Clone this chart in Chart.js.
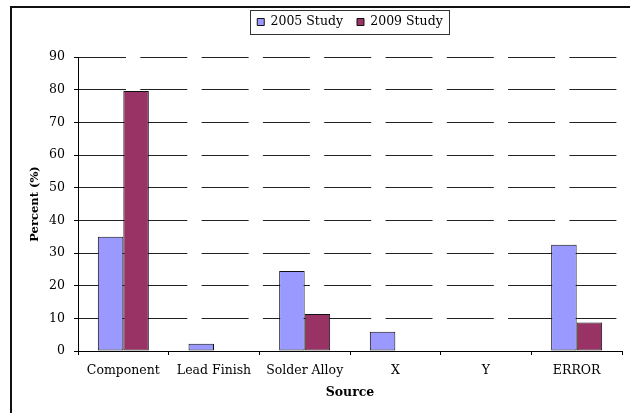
<!DOCTYPE html>
<html>
<head>
<meta charset="utf-8">
<script src="https://cdn.jsdelivr.net/npm/chart.js@4.4.1/dist/chart.umd.min.js"></script>
<style>
  html, body { margin: 0; padding: 0; background: #fff; overflow: hidden; }
  #wrap { width: 630px; height: 413px; position: relative; }
</style>
</head>
<body>
<div id="wrap"><canvas id="c" width="630" height="413"></canvas></div>
<script>
// Share of failures by source, two survey years
const sources = ['Component', 'Lead Finish', 'Solder Alloy', 'X', 'Y', 'ERROR'];
const study2005 = [35, 2.2, 24.5, 5.9, 0, 32.5];
const study2009 = [79.6, 0, 11.3, 0, 0, 8.7];
const seriesNames = ['2005 Study', '2009 Study'];
const yMin = 0, yMax = 90, yStep = 10;

const serif = "'DejaVu Serif', 'Liberation Serif', serif";

// Outer frame, and a bordered legend centred over the plot area
const framePlugin = {
  id: 'frameAndLegendBox',
  beforeDraw(chart) {
    const ctx = chart.ctx;
    ctx.save();
    ctx.strokeStyle = '#111';
    ctx.lineWidth = 2;
    ctx.strokeRect(11, 7, 720, 520);
    ctx.restore();

    const lg = chart.legend;
    if (lg && lg.lineWidths) {
      const area = chart.chartArea;
      const h = lg.height;
      lg.left = area.left;
      lg.right = area.right;
      lg.top = 1.75;
      lg.bottom = lg.top + h;
      const pad = lg.options.labels.padding;
      const content = lg.lineWidths[0] - pad;
      const cx = (area.left + area.right) / 2;
      const bx = Math.round(cx - content / 2 - 7) + 0.5;
      const bw = Math.round(content + 14);
      ctx.save();
      ctx.strokeStyle = '#333';
      ctx.lineWidth = 1;
      ctx.strokeRect(bx, 10.5, bw, 24);
      ctx.restore();
    }
  }
};

new Chart(document.getElementById('c'), {
  type: 'bar',
  data: {
    labels: sources,
    datasets: [
      {
        label: seriesNames[0],
        data: study2005,
        backgroundColor: '#9999FF',
        borderColor: '#111',
        borderWidth: 1,
        borderSkipped: false
      },
      {
        label: seriesNames[1],
        data: study2009,
        backgroundColor: '#993366',
        borderColor: '#111',
        borderWidth: 1,
        borderSkipped: false
      }
    ]
  },
  options: {
    responsive: false,
    animation: false,
    devicePixelRatio: 1,
    layout: { padding: { left: 0, right: 8, top: 20.5, bottom: 0 } },
    datasets: { bar: { categoryPercentage: 0.5625, barPercentage: 1 } },
    plugins: {
      tooltip: { enabled: false },
      legend: {
        position: 'top',
        labels: {
          boxWidth: 7,
          boxHeight: 7,
          padding: 14,
          color: '#000',
          font: { family: serif, size: 12.5 }
        }
      }
    },
    scales: {
      x: {
        grid: {
          display: true,
          drawOnChartArea: false,
          drawTicks: true,
          tickLength: 4,
          color: '#000',
          tickColor: '#000',
          offset: true
        },
        border: { display: true, color: '#000', width: 1 },
        ticks: {
          color: '#000',
          padding: 8,
          maxRotation: 0,
          autoSkip: false,
          font: { family: serif, size: 12.5 }
        },
        title: {
          display: true,
          text: 'Source',
          color: '#000',
          font: { family: serif, size: 12.5, weight: 'bold' },
          padding: { top: 0, bottom: 12.5 }
        },
        afterFit(scale) { scale.height = 62; }
      },
      y: {
        min: yMin,
        max: yMax,
        grid: {
          color: '#222',
          lineWidth: 1,
          tickLength: 4,
          tickColor: '#000',
          drawTicks: true
        },
        border: { display: true, color: '#000', width: 1, dash: [47, 14.3] },
        ticks: {
          stepSize: yStep,
          color: '#000',
          padding: 9,
          font: { family: serif, size: 12.5 }
        },
        title: {
          display: true,
          text: 'Percent (%)',
          color: '#000',
          font: { family: serif, size: 11.5, weight: 'bold' },
          padding: { top: 28, bottom: 0 }
        },
        afterFit(scale) { scale.width = 78; }
      }
    }
  },
  plugins: [framePlugin]
});
</script>
</body>
</html>
